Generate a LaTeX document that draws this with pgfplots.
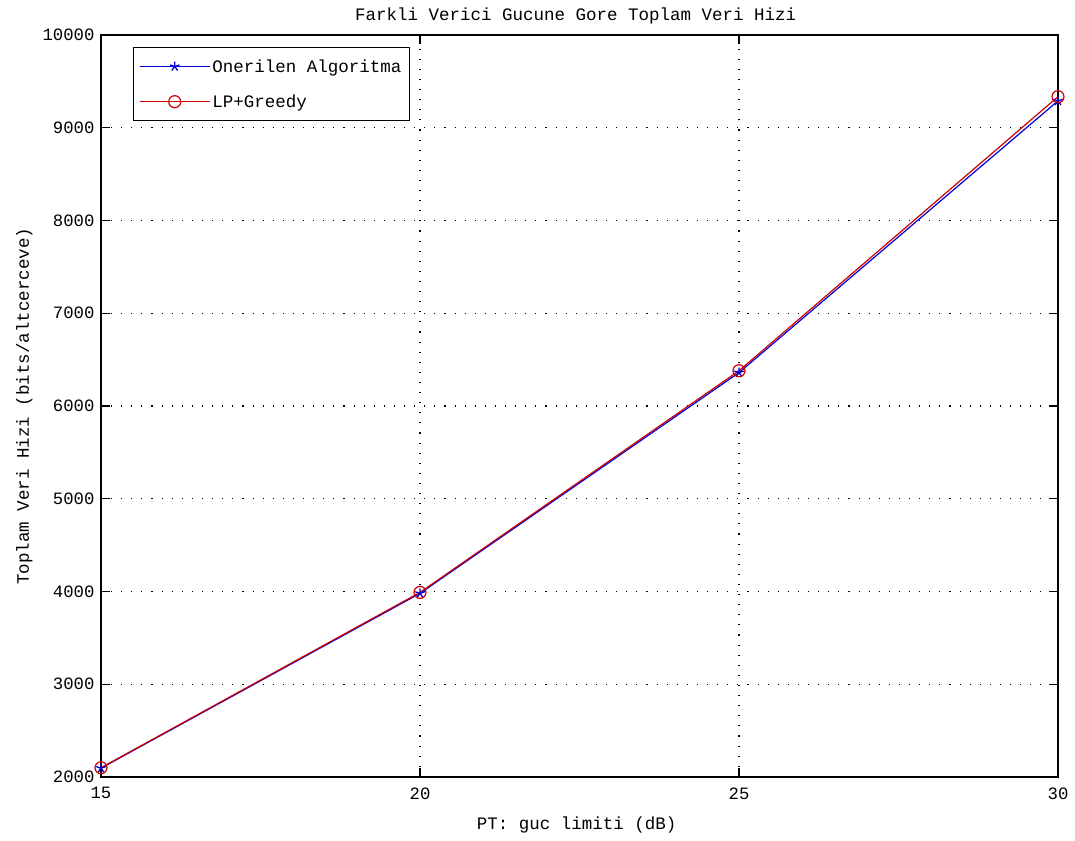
\documentclass[border=0pt]{standalone}
\usepackage{fontspec}
\setmainfont{Liberation Mono}
\usepackage{pgfplots}
\pgfplotsset{compat=1.18}
\begin{document}
\begin{tikzpicture}
\begin{axis}[
  at={(0,0)}, anchor=south west,
  scale only axis,
  width=957pt, height=742pt,
  xmin=15, xmax=30, ymin=2000, ymax=10000,
  xtick={15,20,25,30},
  ytick={2000,3000,...,10000},
  scaled ticks=false,
  /pgf/number format/assume math mode=true,
  /pgf/number format/1000 sep={},
  tick label style={font=\fontsize{17.3}{19}\selectfont},
  xticklabel style={yshift=-7pt},
  yticklabel style={xshift=-3pt},
  grid=major,
  major grid style={black, line width=1.1pt, dash pattern=on 1.1pt off 9pt},
  tick align=inside,
  major tick length=9pt,
  tick style={black, line width=1.1pt},
  axis line style={black, line width=1.2pt},
  title={Farkli Verici Gucune Gore Toplam Veri Hizi},
  title style={font=\fontsize{17.5}{19}\selectfont, at={(axis description cs:0.496,1.027)}, anchor=center, yshift=-7pt},
  xlabel={PT: guc limiti (dB)},
  ylabel={Toplam Veri Hizi (bits/altcerceve)},
  xlabel style={font=\fontsize{17.5}{19}\selectfont, at={(axis description cs:0.497,-0.0647)}, anchor=center},
  ylabel style={font=\fontsize{17.5}{19}\selectfont, at={(axis description cs:-0.080,0.5)}, anchor=center},
  legend style={at={(0.033,0.984)}, anchor=north west, font=\fontsize{17.5}{19}\selectfont, draw=black, line width=1.1pt, inner xsep=6pt, inner ysep=10pt, row sep=17pt},
  legend cell align=left,
  legend image code/.code={\draw[mark repeat=2,mark phase=2,#1] plot coordinates {(0pt,0pt) (35pt,0pt) (70pt,0pt)};},
]
\addplot[blue!85!black, line width=1.2pt, mark=star, mark size=5pt, mark options={solid, line width=1.3pt}] coordinates {
 (15,2095) (20,3980) (25,6360) (30,9290)
};
\addlegendentry{Onerilen Algoritma}
\addplot[red!80!black, line width=1.2pt, mark=o, mark size=6pt] coordinates {
 (15,2100) (20,3990) (25,6380) (30,9335)
};
\addlegendentry{LP+Greedy}
\end{axis}
\pgfresetboundingbox
\path (-101pt,-63pt) rectangle (974pt,777pt);
\end{tikzpicture}
\end{document}
